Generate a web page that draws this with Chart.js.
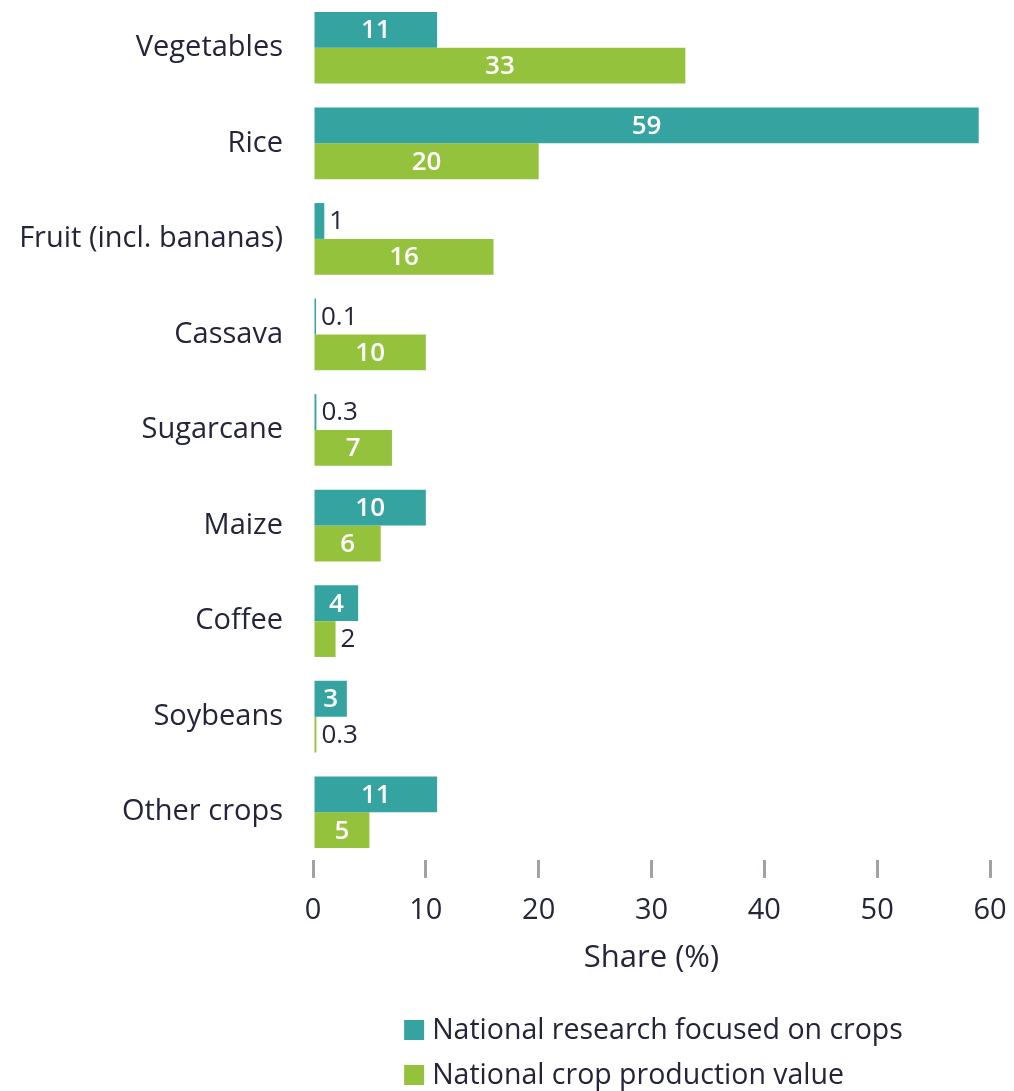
<!DOCTYPE html>
<html>
<head>
<meta charset="utf-8">
<script src="https://cdn.jsdelivr.net/npm/chart.js@4.4.1/dist/chart.umd.min.js"></script>
<style>
    html, body { margin: 0; padding: 0; background: #fff; }
    #wrap { width: 1014px; height: 1091px; position: relative; }
</style>
</head>
<body>
<div id="wrap"><canvas id="chart"></canvas></div>
<script>
    const crops = ["Vegetables", "Rice", "Fruit (incl. bananas)", "Cassava", "Sugarcane", "Maize", "Coffee", "Soybeans", "Other crops"];
    const research = [11, 59, 1, 0.1, 0.3, 10, 4, 3, 11];
    const production = [33, 20, 16, 10, 7, 6, 2, 0.3, 5];
    const seriesNames = ["National research focused on crops", "National crop production value"];
    const seriesColors = ["#35a4a0", "#95c23d"];
    const xTicks = [0, 10, 20, 30, 40, 50, 60];

    const FONT = "'Open Sans', sans-serif";
    const INK = "#24243a";

    // value labels: white inside wide bars, dark just past the end of thin ones
    const barValues = {
        id: "barValues",
        afterDatasetsDraw(chart) {
            const ctx = chart.ctx;
            ctx.save();
            ctx.textBaseline = "middle";
            chart.data.datasets.forEach((ds, di) => {
                chart.getDatasetMeta(di).data.forEach((bar, i) => {
                    const v = ds.data[i];
                    if (v >= 3) {
                        ctx.font = "600 26px " + FONT;
                        ctx.fillStyle = "#fff";
                        ctx.textAlign = "center";
                        ctx.fillText(String(v), (bar.base + bar.x) / 2, bar.y + 1);
                    } else {
                        ctx.font = "26px " + FONT;
                        ctx.fillStyle = INK;
                        ctx.textAlign = "left";
                        ctx.fillText(String(v), bar.x + 5, bar.y + 1);
                    }
                });
            });
            ctx.restore();
        }
    };

    // legend as two stacked rows under the axis title
    const legendRows = {
        id: "legendRows",
        afterDraw(chart) {
            const ctx = chart.ctx;
            const area = chart.chartArea;
            ctx.save();
            ctx.font = "28.5px " + FONT;
            const box = 20, gap = 8;
            const widths = chart.data.datasets.map((ds) => box + gap + ctx.measureText(ds.label).width);
            const left = (area.left + area.right) / 2 - Math.max(...widths) / 2 + 2;
            ctx.textBaseline = "middle";
            ctx.textAlign = "left";
            chart.data.datasets.forEach((ds, i) => {
                const cy = 1030 + i * 45;
                ctx.fillStyle = ds.backgroundColor;
                ctx.fillRect(left, cy - box / 2, box, box);
                ctx.fillStyle = INK;
                ctx.fillText(ds.label, left + box + gap, cy + 1);
            });
            ctx.restore();
        }
    };

    function draw() {
        new Chart(document.getElementById("chart"), {
            type: "bar",
            data: {
                labels: crops,
                datasets: [
                    { label: seriesNames[0], data: research, backgroundColor: seriesColors[0] },
                    { label: seriesNames[1], data: production, backgroundColor: seriesColors[1] },
                ],
            },
            options: {
                indexAxis: "y",
                responsive: true,
                maintainAspectRatio: false,
                animation: false,
                events: [],
                layout: { padding: { top: 0, right: 24, bottom: 112, left: 0 } },
                datasets: { bar: { categoryPercentage: 0.75, barPercentage: 1, minBarLength: 3 } },
                plugins: { legend: { display: false }, tooltip: { enabled: false } },
                scales: {
                    x: {
                        min: 0,
                        max: 60,
                        afterBuildTicks: (scale) => { scale.ticks = xTicks.map((v) => ({ value: v })); },
                        // fixed band for tick labels + title; end labels may overhang the plot
                        afterFit: (scale) => { scale.height = 119; scale.paddingLeft = 0; scale.paddingRight = 0; },
                        grid: { drawOnChartArea: false, drawTicks: true, tickLength: 18, color: "#a3a1a4", lineWidth: 3 },
                        border: { display: false },
                        ticks: { color: INK, font: { family: FONT, size: 29 }, padding: 15, maxRotation: 0 },
                        title: { display: true, text: "Share (%)", color: INK, font: { family: FONT, size: 31 }, padding: { top: 0, bottom: 2 } },
                    },
                    y: {
                        // fixed gutter for the crop names; no extra top/bottom padding from the labels
                        afterFit: (scale) => { scale.width = 313; scale.paddingTop = 0; scale.paddingBottom = 0; },
                        grid: { display: false, drawTicks: false },
                        border: { display: false },
                        ticks: { color: INK, font: { family: FONT, size: 29 }, padding: 30 },
                    },
                },
            },
            plugins: [barValues, legendRows],
        });
    }

    // measure labels with the real face, not a fallback
    Promise.all([
        document.fonts.load("29px 'Open Sans'"),
        document.fonts.load("600 26px 'Open Sans'"),
    ]).then(draw, draw);
</script>
</body>
</html>
